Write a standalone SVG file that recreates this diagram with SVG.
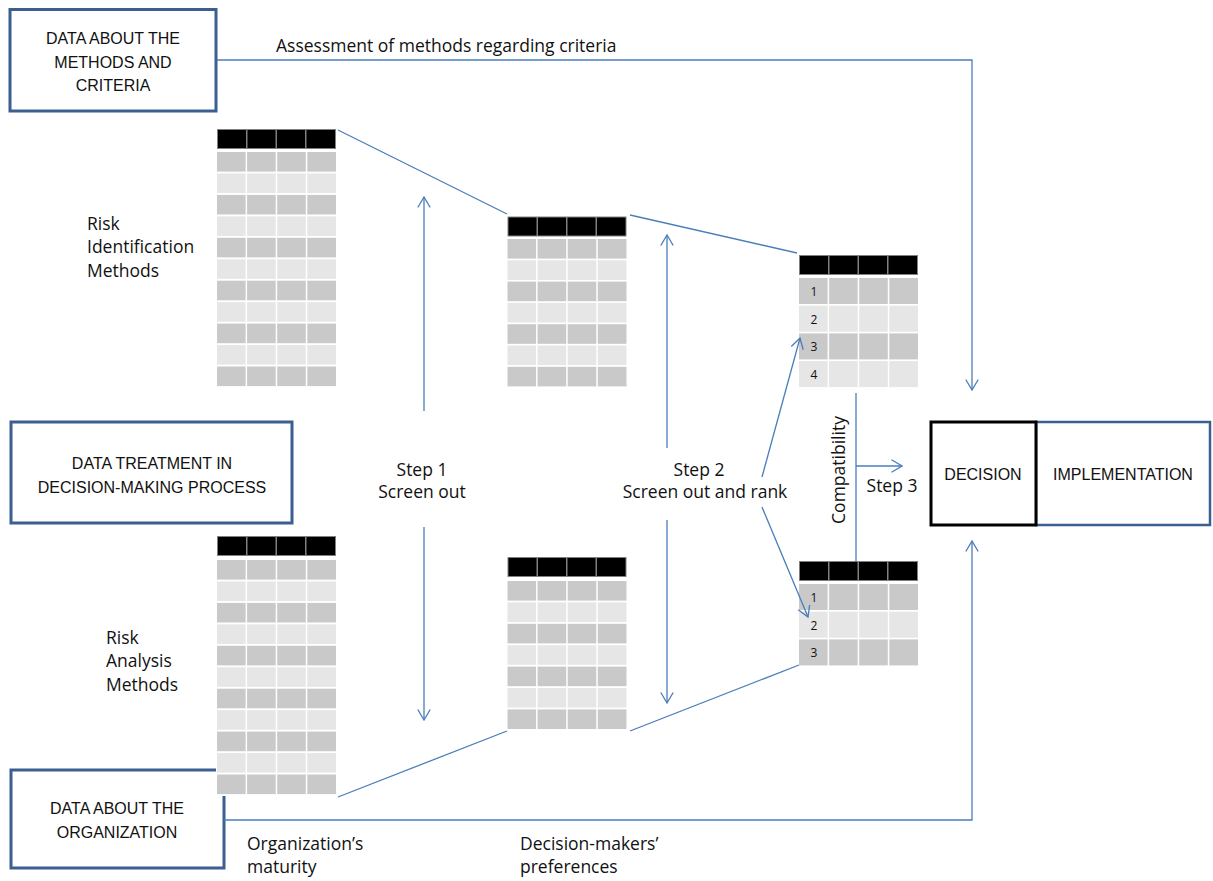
<svg xmlns="http://www.w3.org/2000/svg" xmlns:xlink="http://www.w3.org/1999/xlink" width="1213" height="881" viewBox="0 0 1213 881">
<style>
text{font-family:"Liberation Sans",Arial,sans-serif;font-size:16px;fill:#111}
.m{font-family:"Open Sans","Liberation Sans",sans-serif;font-size:17.5px}
.c{text-anchor:middle}
.num{font-family:"Open Sans","Liberation Sans",sans-serif;font-size:12px;text-anchor:middle}
.box{fill:#fff;stroke:#3b5f8f;stroke-width:3}
.conn{fill:none;stroke:#4a7ebb;stroke-width:1.3}
.arr{marker-end:url(#ah)}
.d{fill:#c9c9c9}
.l{fill:#e6e6e6}
.k{fill:#000}
.bg{fill:#fff}
</style>
<defs>
<marker id="ah" markerUnits="userSpaceOnUse" viewBox="0 0 12 14" markerWidth="12" markerHeight="14" refX="11" refY="7" orient="auto">
<path d="M0.5,0.8 L11,7 L0.5,13.2" fill="none" stroke="#4a7ebb" stroke-width="1.3"/>
</marker>
<g id="hdr"><rect x="0" y="0" width="119" height="20" fill="#808080"/><rect class="k" x="1" y="1" width="28" height="18"/><rect class="k" x="30.5" y="1" width="28" height="18"/><rect class="k" x="60" y="1" width="28" height="18"/><rect class="k" x="89.5" y="1" width="28.5" height="18"/></g>
<g id="rd"><rect class="d" x="0" y="0" width="28.6" height="19.6"/><rect class="d" x="30.1" y="0" width="28.6" height="19.6"/><rect class="d" x="60.2" y="0" width="28.6" height="19.6"/><rect class="d" x="90.3" y="0" width="28.7" height="19.6"/></g>
<g id="rl"><rect class="l" x="0" y="0" width="28.6" height="19.6"/><rect class="l" x="30.1" y="0" width="28.6" height="19.6"/><rect class="l" x="60.2" y="0" width="28.6" height="19.6"/><rect class="l" x="90.3" y="0" width="28.7" height="19.6"/></g>
<g id="bd"><rect class="d" x="0" y="0" width="28.6" height="26"/><rect class="d" x="30.1" y="0" width="28.6" height="26"/><rect class="d" x="60.2" y="0" width="28.6" height="26"/><rect class="d" x="90.3" y="0" width="28.7" height="26"/></g>
<g id="bl"><rect class="l" x="0" y="0" width="28.6" height="26"/><rect class="l" x="30.1" y="0" width="28.6" height="26"/><rect class="l" x="60.2" y="0" width="28.6" height="26"/><rect class="l" x="90.3" y="0" width="28.7" height="26"/></g>
</defs>
<rect width="1213" height="881" fill="#fff"/>

<g id="node-methods-data">
<rect class="box" x="10" y="9.5" width="206" height="101.5"/>
<text class="c" x="113" y="44">DATA ABOUT THE</text>
<text class="c" x="113" y="67.5">METHODS AND</text>
<text class="c" x="113" y="91">CRITERIA</text>
</g>

<g id="node-treatment">
<rect class="box" x="11" y="422" width="281" height="101"/>
<text class="c" x="152" y="469">DATA TREATMENT IN</text>
<text class="c" x="152" y="493">DECISION-MAKING PROCESS</text>
</g>

<g id="node-organization">
<rect class="box" x="11" y="770" width="213" height="98"/>
<text class="c" x="117" y="814">DATA ABOUT THE</text>
<text class="c" x="117" y="838">ORGANIZATION</text>
</g>

<g id="node-decision">
<rect x="1036" y="422" width="174" height="103" fill="#fff" stroke="#3b5f8f" stroke-width="2.5"/>
<rect x="931" y="422" width="105" height="103" fill="#fff" stroke="#000" stroke-width="3"/>
<text class="c" x="983" y="480">DECISION</text>
<text class="c" x="1123" y="480">IMPLEMENTATION</text>
</g>

<g id="node-risk-id-label">
<text class="m" x="87" y="230">Risk</text>
<text class="m" x="87" y="253">Identification</text>
<text class="m" x="87" y="277">Methods</text>
</g>
<g id="node-risk-an-label">
<text class="m" x="106" y="644">Risk</text>
<text class="m" x="106" y="667">Analysis</text>
<text class="m" x="106" y="691">Methods</text>
</g>

<g id="node-table-id">
<rect class="bg" x="216" y="128" width="121" height="261"/>
<use xlink:href="#hdr" x="217" y="129"/>
<use xlink:href="#rd" x="217" y="152"/>
<use xlink:href="#rl" x="217" y="173.45"/>
<use xlink:href="#rd" x="217" y="194.9"/>
<use xlink:href="#rl" x="217" y="216.35"/>
<use xlink:href="#rd" x="217" y="237.8"/>
<use xlink:href="#rl" x="217" y="259.25"/>
<use xlink:href="#rd" x="217" y="280.7"/>
<use xlink:href="#rl" x="217" y="302.15"/>
<use xlink:href="#rd" x="217" y="323.6"/>
<use xlink:href="#rl" x="217" y="345.05"/>
<use xlink:href="#rd" x="217" y="366.5"/>
</g>

<g id="node-table-an">
<rect class="bg" x="216" y="535" width="121" height="261"/>
<use xlink:href="#hdr" x="217" y="536"/>
<use xlink:href="#rd" x="217" y="560"/>
<use xlink:href="#rl" x="217" y="581.45"/>
<use xlink:href="#rd" x="217" y="602.9"/>
<use xlink:href="#rl" x="217" y="624.35"/>
<use xlink:href="#rd" x="217" y="645.8"/>
<use xlink:href="#rl" x="217" y="667.25"/>
<use xlink:href="#rd" x="217" y="688.7"/>
<use xlink:href="#rl" x="217" y="710.15"/>
<use xlink:href="#rd" x="217" y="731.6"/>
<use xlink:href="#rl" x="217" y="753.05"/>
<use xlink:href="#rd" x="217" y="774.5"/>
</g>

<g id="node-table-id-step1">
<use xlink:href="#hdr" x="507.5" y="216.5"/>
<use xlink:href="#rd" x="507.5" y="239"/>
<use xlink:href="#rl" x="507.5" y="260.3"/>
<use xlink:href="#rd" x="507.5" y="281.6"/>
<use xlink:href="#rl" x="507.5" y="302.9"/>
<use xlink:href="#rd" x="507.5" y="324.2"/>
<use xlink:href="#rl" x="507.5" y="345.5"/>
<use xlink:href="#rd" x="507.5" y="366.8"/>
</g>

<g id="node-table-an-step1">
<use xlink:href="#hdr" x="507.5" y="557"/>
<use xlink:href="#rd" x="507.5" y="581"/>
<use xlink:href="#rl" x="507.5" y="602.4"/>
<use xlink:href="#rd" x="507.5" y="623.8"/>
<use xlink:href="#rl" x="507.5" y="645.2"/>
<use xlink:href="#rd" x="507.5" y="666.6"/>
<use xlink:href="#rl" x="507.5" y="688"/>
<use xlink:href="#rd" x="507.5" y="709.4"/>
</g>

<g id="node-table-id-step2">
<use xlink:href="#hdr" x="799" y="255"/>
<use xlink:href="#bd" x="799" y="278"/>
<use xlink:href="#bl" x="799" y="305.7"/>
<use xlink:href="#bd" x="799" y="333.4"/>
<use xlink:href="#bl" x="799" y="361.1"/>
<text class="num" x="814" y="295.5">1</text>
<text class="num" x="814" y="323.5">2</text>
<text class="num" x="814" y="351">3</text>
<text class="num" x="814" y="378.5">4</text>
</g>

<g id="node-table-an-step2">
<use xlink:href="#hdr" x="799" y="561"/>
<use xlink:href="#bd" x="799" y="584"/>
<use xlink:href="#bl" x="799" y="611.7"/>
<use xlink:href="#bd" x="799" y="639.4"/>
<text class="num" x="814" y="601.5">1</text>
<text class="num" x="814" y="629.5">2</text>
<text class="num" x="814" y="657">3</text>
</g>

<g id="labels">
<text class="m" x="276" y="52">Assessment of methods regarding criteria</text>
<text class="m c" x="422" y="476">Step 1</text>
<text class="m c" x="422" y="498">Screen out</text>
<text class="m c" x="699" y="476">Step 2</text>
<text class="m c" x="705" y="498">Screen out and rank</text>
<text class="m c" x="892" y="492">Step 3</text>
<text class="m c" transform="translate(845,470) rotate(-90)">Compatibility</text>
<text class="m" x="247" y="850">Organization’s</text>
<text class="m" x="247" y="873">maturity</text>
<text class="m" x="520" y="850">Decision-makers’</text>
<text class="m" x="520" y="873">preferences</text>
</g>

<g id="connectors">
<path class="conn arr" d="M217,60 H972 V390"/>
<path class="conn arr" d="M224,820 H972 V541"/>
<path class="conn" d="M338,130 L507,214"/>
<path class="conn" d="M630,215 L797,253"/>
<path class="conn" d="M338,797 L507,731"/>
<path class="conn" d="M630,731 L799,665"/>
<path class="conn arr" d="M424,411 V197"/>
<path class="conn arr" d="M424,527 V720"/>
<path class="conn arr" d="M667,448 V235"/>
<path class="conn arr" d="M667,520 V703"/>
<path class="conn arr" d="M762,477 L800,338"/>
<path class="conn arr" d="M762,507 L808,617"/>
<path class="conn" d="M856,393 V562"/>
<path class="conn arr" d="M856,466 H902"/>
</g>
</svg>
